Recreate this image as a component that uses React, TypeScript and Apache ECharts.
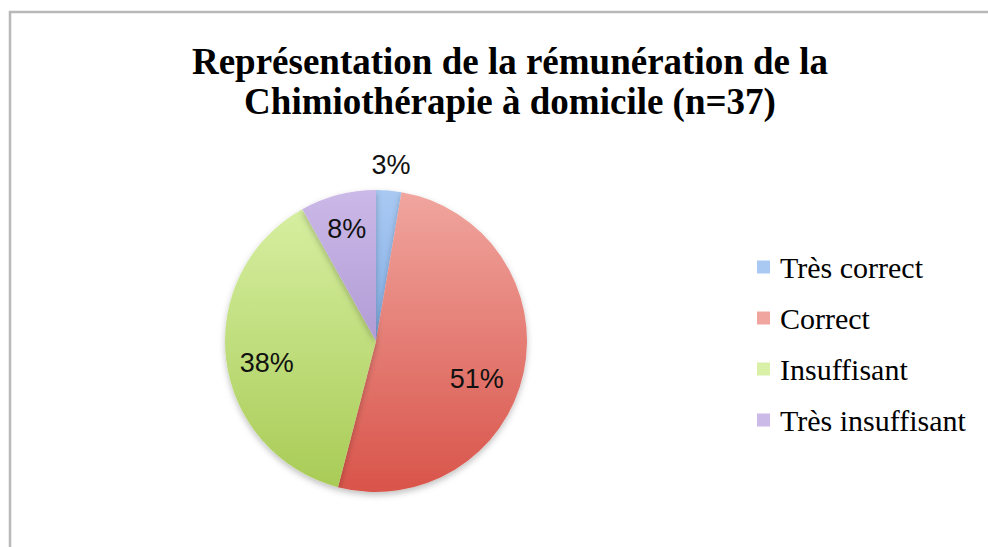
import React, { useEffect, useRef } from "react";
import * as echarts from "echarts";

const titleLines = ["Représentation de la rémunération de la", "Chimiothérapie à domicile (n=37)"];
const categories = ["Très correct", "Correct", "Insuffisant", "Très insuffisant"];
const counts = [1, 19, 14, 3];
const percentLabels = ["3%", "51%", "38%", "8%"];
const colorTops = ["#a9c9f2", "#f0a69f", "#d9f1a6", "#cbb9e8"];
const colorBottoms = ["#5f96dc", "#d9544a", "#a8cb55", "#9a7fc3"];

const CX = 376;
const CY = 341;
const R = 151;

export default function App() {
  const ref = useRef<HTMLDivElement>(null);
  useEffect(() => {
    if (!ref.current) return;
    const chart = echarts.init(ref.current, null, { renderer: "svg" });
    const grad = (i: number) => ({
      type: "linear",
      x: 0,
      y: CY - R,
      x2: 0,
      y2: CY + R,
      global: true,
      colorStops: [
        { offset: 0, color: colorTops[i] },
        { offset: 1, color: colorBottoms[i] },
      ],
    });
    const labelFont = {
      fontFamily: "Liberation Sans",
      fontSize: 27,
      color: "#111",
    };
    const mainData = categories.map((name, i) => ({
      name,
      value: counts[i],
      itemStyle: { color: grad(i) },
    }));
    const innerLabelData = categories.map((name, i) => ({
      name,
      value: counts[i],
      label: {
        show: i !== 0,
        formatter: percentLabels[i],
        offset: i === 1 ? [-13, 14] : i === 2 ? [6, 7] : [0, 0],
      },
    }));
    const outerLabelData = categories.map((name, i) => ({
      name,
      value: counts[i],
      label: { show: i === 0, formatter: percentLabels[i] },
    }));
    chart.setOption({
      animation: false,
      backgroundColor: "#ffffff",
      title: {
        text: titleLines.join("\n"),
        left: 505,
        top: 36,
        textAlign: "center",
        textStyle: {
          fontFamily: "Liberation Serif",
          fontWeight: "bold",
          fontSize: 37,
          lineHeight: 40,
          color: "#000",
        },
      },
      legend: {
        orient: "vertical",
        left: 757,
        top: 252,
        padding: 0,
        itemWidth: 13,
        itemHeight: 13,
        itemGap: 21,
        icon: "rect",
        data: categories,
        textStyle: {
          fontFamily: "Liberation Serif",
          fontSize: 30,
          color: "#000",
          padding: [0, 0, 0, 5],
        },
      },
      graphic: [
        {
          type: "rect",
          shape: { x: 10, y: 12, width: 1100, height: 700 },
          style: { fill: "none", stroke: "#b8b8b8", lineWidth: 2.5 },
          silent: true,
        },
      ],
      series: [
        {
          type: "pie",
          center: [CX, CY],
          radius: [0, R],
          startAngle: 90,
          clockwise: true,
          label: { show: false },
          labelLine: { show: false },
          itemStyle: {
            shadowBlur: 6,
            shadowOffsetY: 3,
            shadowColor: "rgba(0,0,0,0.25)",
          },
          emphasis: { disabled: true },
          data: mainData,
        },
        {
          type: "pie",
          center: [CX, CY],
          radius: [0, R * 1.5],
          startAngle: 90,
          clockwise: true,
          silent: true,
          legendHoverLink: false,
          itemStyle: { color: "rgba(0,0,0,0)" },
          label: { position: "inside", ...labelFont },
          labelLine: { show: false },
          emphasis: { disabled: true },
          data: innerLabelData,
        },
        {
          type: "pie",
          center: [CX, CY],
          radius: [0, (R + 23) * 2],
          startAngle: 90,
          clockwise: true,
          silent: true,
          legendHoverLink: false,
          itemStyle: { color: "rgba(0,0,0,0)" },
          label: { position: "inside", ...labelFont },
          labelLine: { show: false },
          emphasis: { disabled: true },
          data: outerLabelData,
        },
      ],
    });
    return () => chart.dispose();
  }, []);
  return (
    <div
      ref={ref}
      style={{ position: "fixed", left: 0, top: 0, width: 988, height: 547 }}
    />
  );
}
